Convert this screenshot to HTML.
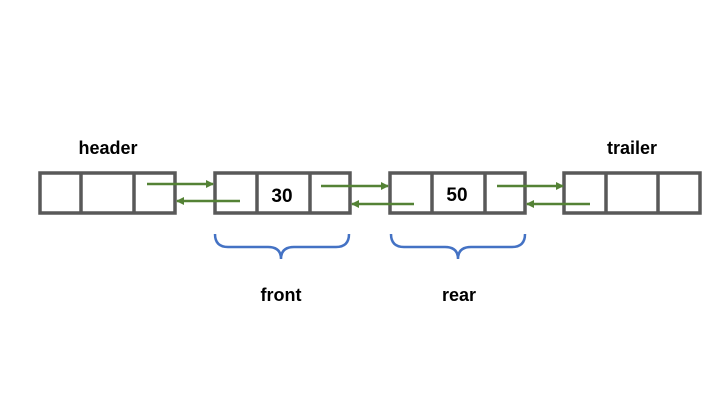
<!DOCTYPE html>
<html><head><meta charset="utf-8"><style>
html,body{margin:0;padding:0;background:#fff;}
svg{display:block}
text{font-family:"Liberation Sans",Arial,sans-serif;font-weight:bold;fill:#000;}
</style></head><body>
<svg width="720" height="405" viewBox="0 0 720 405" xmlns="http://www.w3.org/2000/svg">
<defs>
<marker id="ah" markerWidth="8" markerHeight="8" refX="7" refY="4" orient="auto" markerUnits="userSpaceOnUse">
<path d="M0,0 L8,4 L0,8 z" fill="#548235"/>
</marker>
</defs>
<g fill="none" stroke="#595959" stroke-width="3.5">
<rect x="40" y="173" width="135" height="40"/>
<line x1="81" y1="173" x2="81" y2="213"/><line x1="134" y1="173" x2="134" y2="213"/>
<rect x="215" y="173" width="135" height="40"/>
<line x1="257" y1="173" x2="257" y2="213"/><line x1="310" y1="173" x2="310" y2="213"/>
<rect x="390" y="173" width="135" height="40"/>
<line x1="432" y1="173" x2="432" y2="213"/><line x1="485" y1="173" x2="485" y2="213"/>
<rect x="564" y="173" width="136" height="40"/>
<line x1="606" y1="173" x2="606" y2="213"/><line x1="658" y1="173" x2="658" y2="213"/>
</g>
<g stroke="#548235" stroke-width="2.5" marker-end="url(#ah)">
<line x1="147" y1="184" x2="213" y2="184"/>
<line x1="240" y1="201" x2="177" y2="201"/>
<line x1="321" y1="186" x2="388" y2="186"/>
<line x1="414" y1="204" x2="352" y2="204"/>
<line x1="497" y1="186" x2="563" y2="186"/>
<line x1="590" y1="204" x2="527" y2="204"/>
</g>
<g fill="none" stroke="#4472C4" stroke-width="2.5">
<path d="M215,234 Q215,247 228,247 L268,247 Q281,247 281,259 Q281,247 294,247 L336,247 Q349,247 349,234"/>
<path d="M391,234 Q391,247 404,247 L445,247 Q458,247 458,259 Q458,247 471,247 L512,247 Q525,247 525,234"/>
</g>
<text x="108" y="154" font-size="18" text-anchor="middle">header</text>
<text x="632" y="154" font-size="18" text-anchor="middle">trailer</text>
<text x="282" y="202" font-size="19" text-anchor="middle">30</text>
<text x="457" y="201" font-size="19" text-anchor="middle">50</text>
<text x="281" y="301" font-size="18" text-anchor="middle">front</text>
<text x="459" y="301" font-size="18" text-anchor="middle">rear</text>
</svg>
</body></html>
